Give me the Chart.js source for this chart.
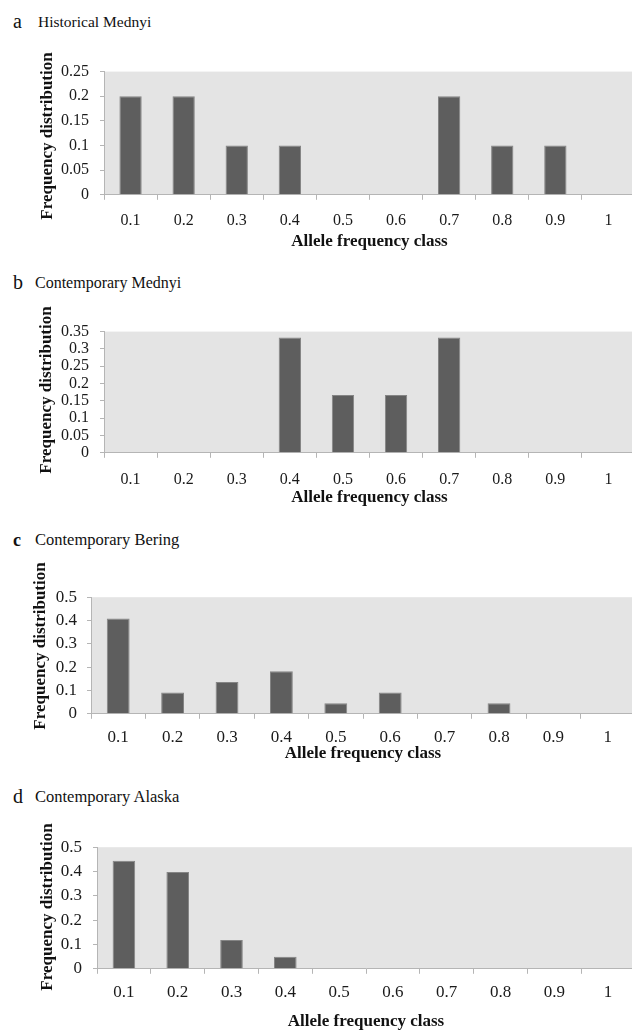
<!DOCTYPE html>
<html>
<head>
<meta charset="utf-8">
<script src="https://cdn.jsdelivr.net/npm/chart.js@4.4.1/dist/chart.umd.min.js"></script>
<style>
  html, body { margin: 0; padding: 0; background: #fff; }
  body { width: 632px; height: 1031px; overflow: hidden; position: relative; }
  canvas { position: absolute; left: 0; }
  .ptitle { position: absolute; font-family: "Liberation Serif", "Times New Roman", serif; color: #111; white-space: nowrap; line-height: 20px; height: 20px; }
  .plet { position: absolute; font-family: "Liberation Serif", "Times New Roman", serif; color: #111; line-height: 20px; height: 20px; }
  .ytitle { position: absolute; width: 200px; height: 20px; line-height: 20px; text-align: center; white-space: nowrap;
            font-family: "Liberation Serif", "Times New Roman", serif; font-weight: bold; font-size: 17px; color: #111;
            transform: rotate(-90deg); transform-origin: 50% 50%; z-index: 2; }
</style>
</head>
<body>
<div class="plet" style="left:13px;top:11px;font-size:20px;">a</div>
<div class="ptitle" style="left:38px;top:12px;font-size:15.5px;">Historical Mednyi</div>
<div class="plet" style="left:13px;top:272px;font-size:20px;">b</div>
<div class="ptitle" style="left:35px;top:273px;font-size:16px;">Contemporary Mednyi</div>
<div class="plet" style="left:13px;top:530px;font-size:18px;font-weight:bold;">c</div>
<div class="ptitle" style="left:35px;top:530px;font-size:16.5px;">Contemporary Bering</div>
<div class="plet" style="left:13px;top:786px;font-size:20px;">d</div>
<div class="ptitle" style="left:35px;top:787px;font-size:16.5px;">Contemporary Alaska</div>

<canvas id="ca"></canvas>
<canvas id="cb"></canvas>
<canvas id="cc"></canvas>
<canvas id="cd"></canvas>

<div class="ytitle" id="ya"></div>
<div class="ytitle" id="yb"></div>
<div class="ytitle" id="yc"></div>
<div class="ytitle" id="yd"></div>

<script>
// ---- data ----
const categories = ['0.1', '0.2', '0.3', '0.4', '0.5', '0.6', '0.7', '0.8', '0.9', '1'];
const historicalMednyi   = [0.2, 0.2, 0.1, 0.1, 0, 0, 0.2, 0.1, 0.1, 0];
const contemporaryMednyi = [0, 0, 0, 0.333, 0.167, 0.167, 0.333, 0, 0, 0];
const contemporaryBering = [0.409, 0.091, 0.136, 0.182, 0.045, 0.091, 0, 0.045, 0, 0];
const contemporaryAlaska = [0.444, 0.398, 0.118, 0.05, 0, 0, 0, 0, 0, 0];
const yTicksA = [0, 0.05, 0.1, 0.15, 0.2, 0.25];
const yTicksB = [0, 0.05, 0.1, 0.15, 0.2, 0.25, 0.3, 0.35];
const yTicksC = [0, 0.1, 0.2, 0.3, 0.4, 0.5];
const yTicksD = [0, 0.1, 0.2, 0.3, 0.4, 0.5];
const yTitle = 'Frequency distribution';
const xTitle = 'Allele frequency class';

// ---- styling / layout ----
const SERIF = '"Liberation Serif", "Times New Roman", serif';
const CANVAS_W = 636;
const TITLE_SIZE = 17;
const TITLE_LH = TITLE_SIZE * 1.2;

const bgPlugin = {
  id: 'plotBg',
  beforeDraw(chart) {
    const a = chart.chartArea, ctx = chart.ctx;
    ctx.save();
    ctx.fillStyle = '#e4e4e4';
    ctx.fillRect(a.left, a.top, a.right - a.left, a.bottom - a.top);
    ctx.restore();
  }
};

function makePanel(id, yId, values, yTicks, g) {
  const padTop = 12;
  const xHeight = g.titleY - g.plotBottom + TITLE_LH / 2;
  const canvasTop = g.plotTop - padTop;
  const canvasH = Math.round(g.plotBottom - canvasTop + xHeight);
  const cv = document.getElementById(id);
  cv.width = CANVAS_W; cv.height = canvasH;
  cv.style.width = CANVAS_W + 'px'; cv.style.height = canvasH + 'px';
  cv.style.top = canvasTop + 'px';

  const yt = document.getElementById(yId);
  yt.textContent = yTitle;
  yt.style.left = (g.yTitleX - 100) + 'px';
  yt.style.top = (g.yTitleY - 10) + 'px';

  new Chart(cv, {
    type: 'bar',
    data: {
      labels: categories,
      datasets: [{
        data: values,
        backgroundColor: '#5e5e5e',
        borderColor: '#858585',
        borderWidth: 1,
        categoryPercentage: 1,
        barPercentage: 0.42
      }]
    },
    options: {
      responsive: false,
      animation: false,
      devicePixelRatio: 1,
      layout: { padding: { top: padTop, left: 0, right: CANVAS_W - 635, bottom: 0 } },
      plugins: { legend: { display: false }, tooltip: { enabled: false } },
      scales: {
        x: {
          offset: true,
          grid: { offset: true, drawOnChartArea: false, drawTicks: true, tickLength: 5, color: '#b5b5b5' },
          border: { display: true, color: '#b5b5b5', width: 1 },
          ticks: { color: '#1a1a1a', font: { family: SERIF, size: g.tickSize }, padding: g.tickPadX, maxRotation: 0, autoSkip: false },
          title: { display: true, text: xTitle, color: '#111', font: { family: SERIF, size: TITLE_SIZE, weight: 'bold' }, padding: 0 },
          afterFit(s) { s.height = xHeight; }
        },
        y: {
          min: 0,
          max: yTicks[yTicks.length - 1],
          afterBuildTicks(s) { s.ticks = yTicks.map(v => ({ value: v })); },
          grid: { drawOnChartArea: false, drawTicks: true, tickLength: 4, color: '#b5b5b5' },
          border: { display: true, color: '#b5b5b5', width: 1 },
          ticks: { color: '#1a1a1a', font: { family: SERIF, size: g.tickSize }, padding: g.tickPadY, autoSkip: false,
                   callback: v => String(+Number(v).toFixed(3)) },
          title: { display: false },
          afterFit(s) { s.width = g.axisX; }
        }
      }
    },
    plugins: [bgPlugin]
  });
}

makePanel('ca', 'ya', historicalMednyi, yTicksA, { plotTop: 63, plotBottom: 195, axisX: 104, yTitleX: 47, yTitleY: 136, titleY: 242, tickPadX: 11, tickPadY: 11, tickSize: 16 });
makePanel('cb', 'yb', contemporaryMednyi, yTicksB, { plotTop: 323, plotBottom: 453, axisX: 104, yTitleX: 46, yTitleY: 390, titleY: 498, tickPadX: 12, tickPadY: 11, tickSize: 16 });
makePanel('cc', 'yc', contemporaryBering, yTicksC, { plotTop: 589, plotBottom: 714, axisX: 91, yTitleX: 40, yTitleY: 646, titleY: 754, tickPadX: 9, tickPadY: 10, tickSize: 17 });
makePanel('cd', 'yd', contemporaryAlaska, yTicksD, { plotTop: 838, plotBottom: 969, axisX: 97, yTitleX: 47, yTitleY: 907, titleY: 1022, tickPadX: 9, tickPadY: 11, tickSize: 17 });
</script>
</body>
</html>
